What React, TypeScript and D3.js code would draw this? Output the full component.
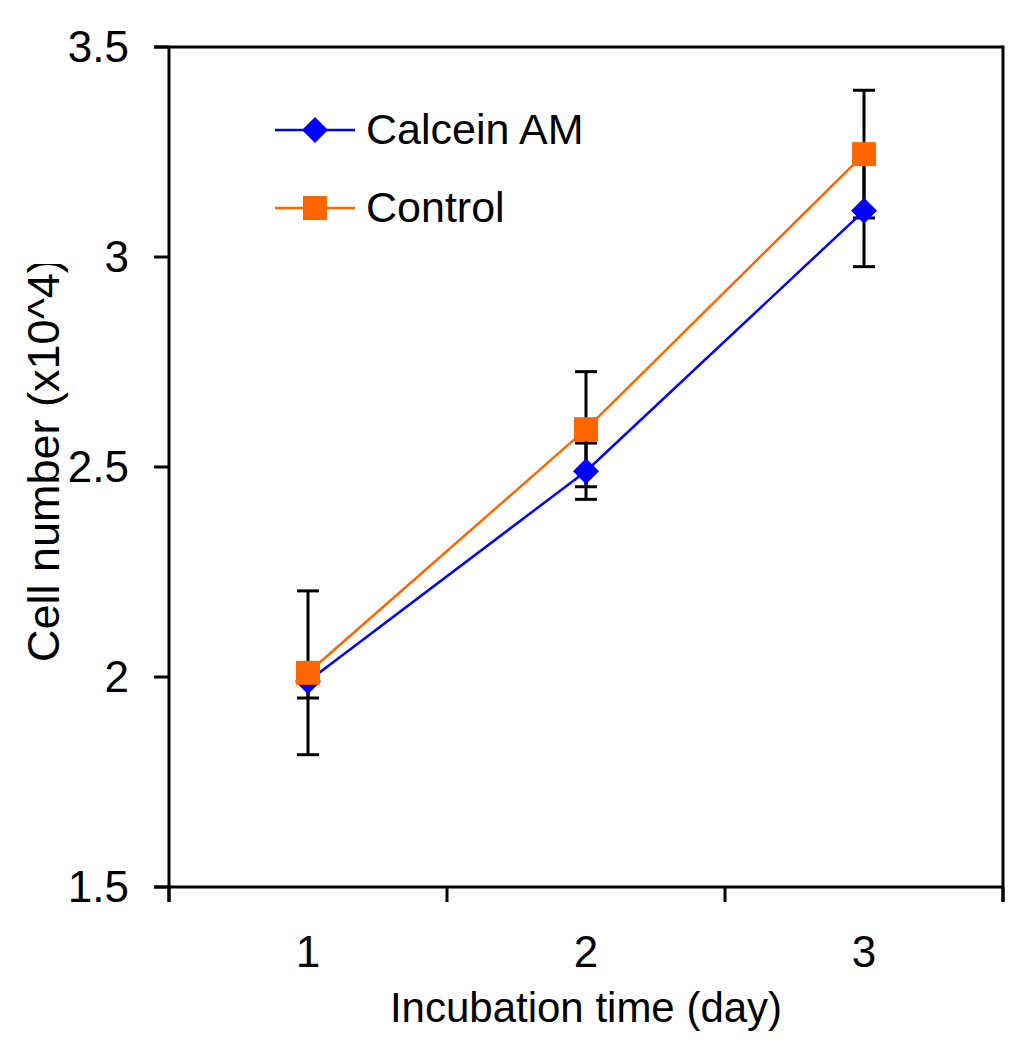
import React from "react";
import * as d3 from "d3";

const days = ["1", "2", "3"];
const calceinMean = [1.99, 2.49, 3.11];
const calceinErr = [0.04, 0.067, 0.133];
const controlMean = [2.01, 2.59, 3.245];
const controlErr = [0.195, 0.137, 0.152];
const yTicks = [1.5, 2, 2.5, 3, 3.5];
const seriesNames = ["Calcein AM", "Control"];

const W = 1019;
const H = 1050;
const left = 169, right = 1003, top = 47, bottom = 887;
const font = "'Liberation Sans', Arial, sans-serif";
const BLUE = "#0000ff";
const ORANGE = "#ff6600";

export default function App() {
  const x = d3.scaleBand<string>().domain(days).range([left, right]);
  const y = d3.scaleLinear().domain([1.5, 3.5]).range([bottom, top]);
  const cx = (d: string) => (x(d) as number) + x.bandwidth() / 2;
  const line = d3.line<number>().x((_, i) => cx(days[i])).y((v) => y(v));
  const xEdges = [...days.map((d) => x(d) as number), right];

  const series = [
    { name: seriesNames[0], mean: calceinMean, err: calceinErr, color: BLUE, shape: "diamond" },
    { name: seriesNames[1], mean: controlMean, err: controlErr, color: ORANGE, shape: "square" },
  ];

  const marker = (shape: string, px: number, py: number, color: string, key: any) =>
    shape === "diamond" ? (
      <path key={key} d={`M${px},${py - 13}L${px + 13},${py}L${px},${py + 13}L${px - 13},${py}Z`} fill={color} />
    ) : (
      <rect key={key} x={px - 12} y={py - 12} width={24} height={24} fill={color} />
    );

  return (
    <svg width={W} height={H} style={{ display: "block", position: "absolute", left: 0, top: 0, background: "#fff" }}>
      <defs>
        <clipPath id="ylabClip">
          <rect x={0} y={264} width={120} height={600} />
        </clipPath>
      </defs>
      {/* error bars */}
      {series.map((s, si) =>
        s.mean.map((m, i) => {
          const px = cx(days[i]);
          const y1 = y(m + s.err[i]);
          const y2 = y(m - s.err[i]);
          return (
            <g key={`e${si}-${i}`} stroke="#000" strokeWidth={3}>
              <line x1={px} x2={px} y1={y1} y2={y2} />
              <line x1={px - 11} x2={px + 11} y1={y1} y2={y1} />
              <line x1={px - 11} x2={px + 11} y1={y2} y2={y2} />
            </g>
          );
        })
      )}
      {/* lines */}
      {series.map((s, si) => (
        <path key={`l${si}`} d={line(s.mean) as string} fill="none" stroke={s.color} strokeWidth={2.5} />
      ))}
      {/* markers */}
      {series.map((s, si) => s.mean.map((m, i) => marker(s.shape, cx(days[i]), y(m), s.color, `m${si}-${i}`)))}

      {/* frame */}
      <g stroke="#000" strokeWidth={3} fill="none">
        <line x1={left} x2={left} y1={top} y2={bottom + 15} />
        <line x1={left - 15} x2={right} y1={bottom} y2={bottom} />
        <line x1={left - 15} x2={right} y1={top} y2={top} />
        <line x1={right} x2={right} y1={top - 1.5} y2={bottom + 15} />
        {yTicks.map((t) => (
          <line key={t} x1={left - 15} x2={left} y1={y(t)} y2={y(t)} />
        ))}
        {xEdges.map((e, i) => (
          <line key={i} x1={e} x2={e} y1={bottom} y2={bottom + 15} />
        ))}
      </g>

      {/* y tick labels */}
      {yTicks.map((t) => (
        <text key={t} x={129} y={y(t) + 15} textAnchor="end" fontFamily={font} fontSize={44} fill="#000">
          {String(t)}
        </text>
      ))}
      {/* x tick labels */}
      {days.map((d) => (
        <text key={d} x={cx(d)} y={967} textAnchor="middle" fontFamily={font} fontSize={44} fill="#000">
          {d}
        </text>
      ))}
      <text x={(left + right) / 2} y={1022} textAnchor="middle" fontFamily={font} fontSize={42} fill="#000">
        Incubation time (day)
      </text>
      <g clipPath="url(#ylabClip)">
        <text transform="translate(59,662) rotate(-90)" textAnchor="start" fontFamily={font} fontSize={45} fill="#000">
          Cell number (x10^4)
        </text>
      </g>

      {/* legend */}
      {series.map((s, si) => {
        const ly = 130 + si * 78;
        return (
          <g key={`lg${si}`}>
            <line x1={275} x2={355} y1={ly} y2={ly} stroke={s.color} strokeWidth={2.5} />
            {marker(s.shape, 315, ly, s.color, "mk")}
            <text x={366} y={ly + 14} fontFamily={font} fontSize={43} fill="#000">
              {s.name}
            </text>
          </g>
        );
      })}
    </svg>
  );
}
